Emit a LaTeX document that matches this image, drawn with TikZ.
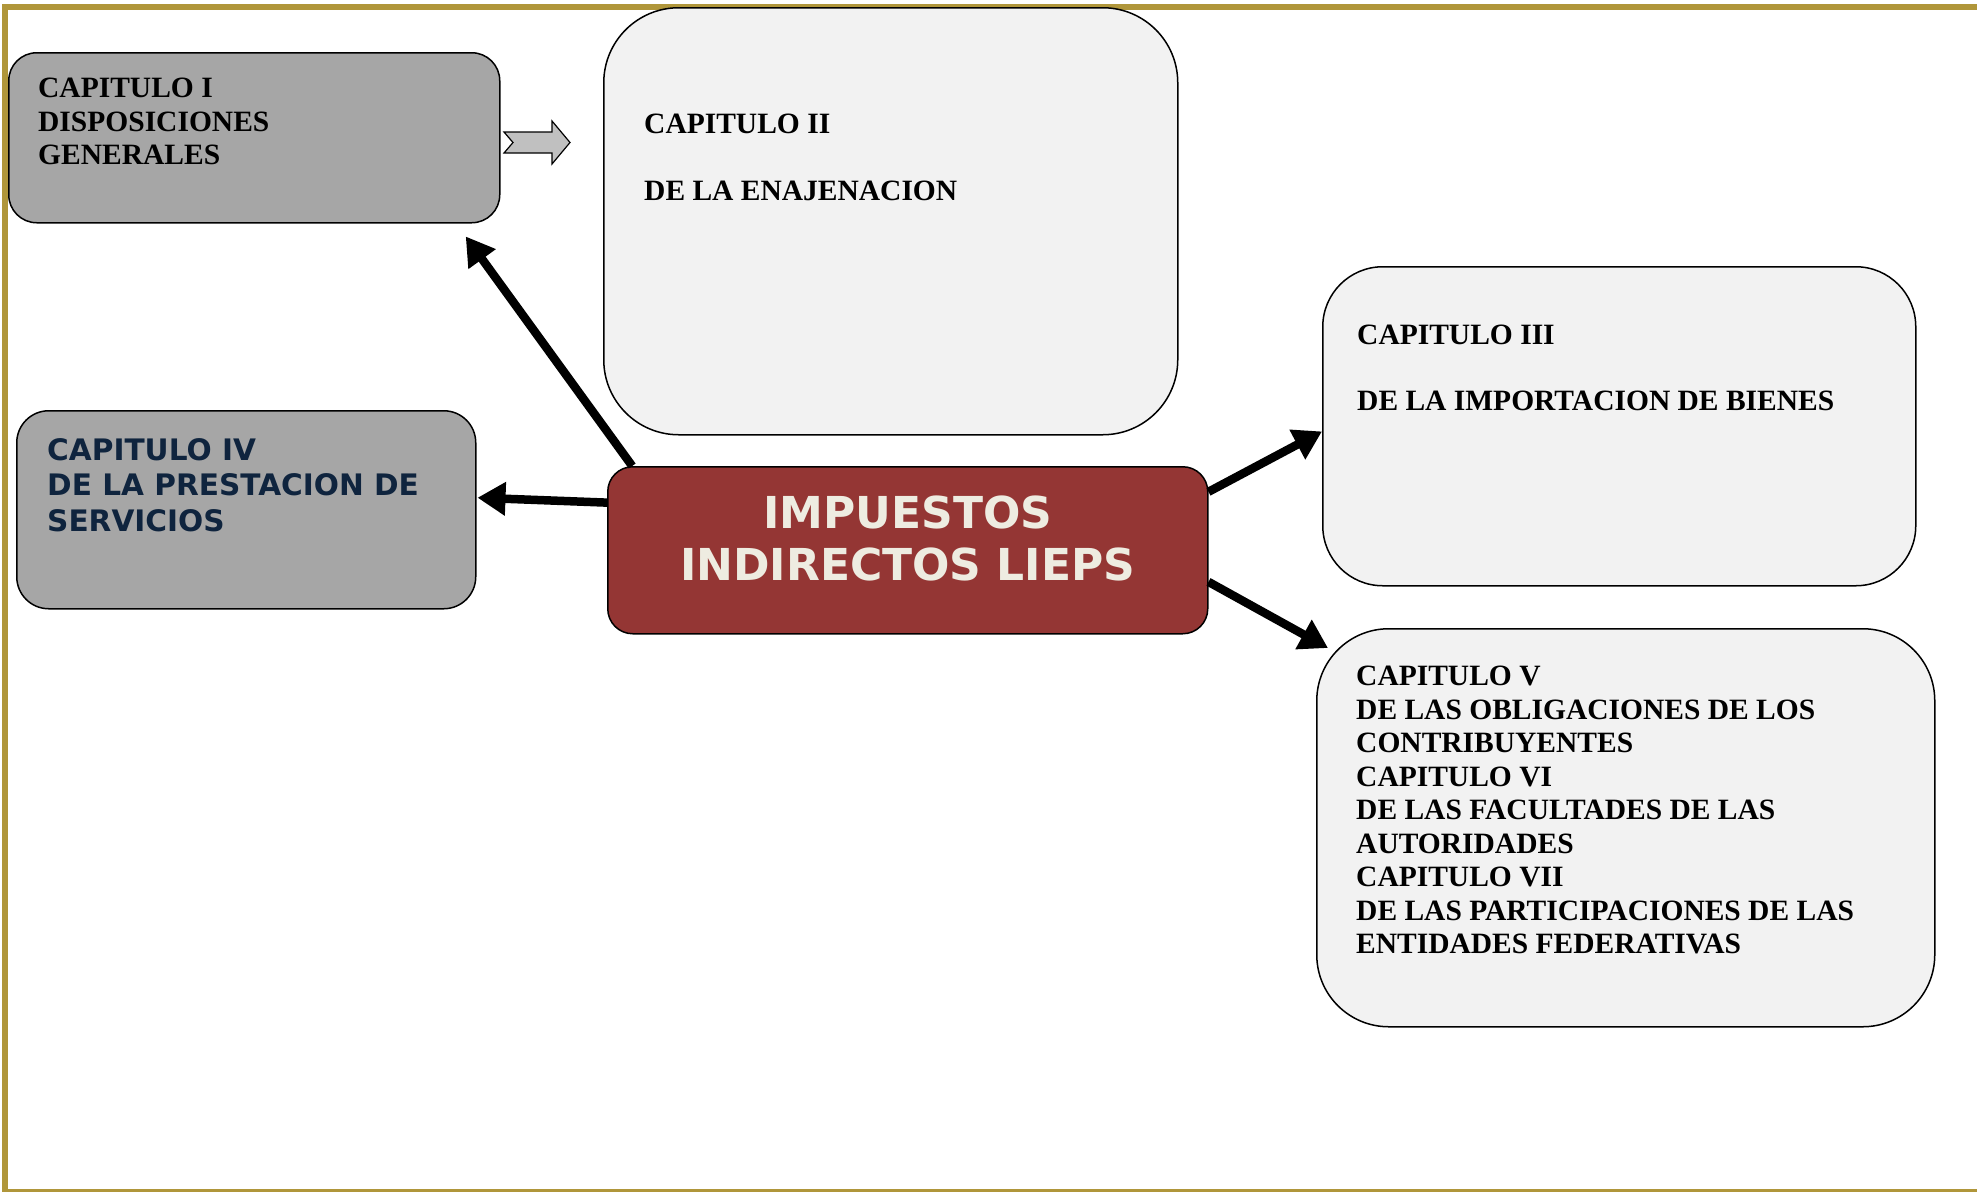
\documentclass[tikz,border=0pt]{standalone}
\usepackage{fontspec}
\setmainfont{Liberation Serif}
\newfontfamily\verdfont{DejaVu Sans}
\usetikzlibrary{positioning}
\usetikzlibrary{arrows.meta}
\definecolor{marco}{HTML}{B0963A}
\definecolor{grisbox}{HTML}{A6A6A6}
\definecolor{clarobox}{HTML}{F2F2F2}
\definecolor{rojobox}{HTML}{943634}
\definecolor{crema}{HTML}{EEECE1}
\definecolor{azulosc}{HTML}{0F243E}
\definecolor{grisflecha}{HTML}{C0C0C0}

\begin{document}
\begin{tikzpicture}[x=1pt,y=-1pt,
	caja/.style={draw=black, line width=1.5pt, anchor=north west, inner sep=0pt},
	txtserif/.style={inner sep=0pt, align=left, font=\fontsize{29.5}{33.5}\selectfont\bfseries},
	txtverd/.style={inner sep=0pt, align=left, text=azulosc, font=\verdfont\bfseries\fontsize{29.6}{35.7}\selectfont},
	flecha/.style={line width=8.5pt, -{Triangle[length=28pt,width=32pt]}}]
	\useasboundingbox (0,0) rectangle (1977,1192);
	% marco
	\fill[marco] (2,4) rectangle (1977,9.5);
	\fill[marco] (2,4) rectangle (7.5,1192);
	\fill[marco] (2,1189) rectangle (1977,1192);
	% cajas
	\node[caja, fill=grisbox, rounded corners=28pt, minimum width=491pt, minimum height=170pt] (cap1) at (8,52) {};%I
	\node[caja, fill=clarobox, rounded corners=75pt, minimum width=574pt, minimum height=427pt] (cap2) at (603,7) {};%II
	\node[caja, fill=clarobox, rounded corners=60pt, minimum width=593pt, minimum height=319pt] (cap3) at (1322,266) {};%III
	\node[caja, fill=grisbox, rounded corners=32pt, minimum width=459pt, minimum height=198pt] (cap4) at (16,410) {};%IV
	\node[caja, fill=rojobox, rounded corners=25pt, minimum width=600pt, minimum height=167pt] (lieps) at (607,466) {};%centro
	\node[caja, fill=clarobox, rounded corners=72pt, minimum width=618pt, minimum height=398pt] (cap5) at (1316,628) {};%V-VII
	% textos
	\node[txtserif, below right=26pt and 30pt of cap1.north west] (txt1) {CAPITULO I\\DISPOSICIONES\\GENERALES};
	\node[txtserif, below right=107pt and 41pt of cap2.north west] (txt2) {CAPITULO II\\[33.5pt]DE LA ENAJENACION};
	\node[txtserif, below right=59pt and 35pt of cap3.north west] (txt3) {CAPITULO III\\[32pt]DE LA IMPORTACION DE BIENES};
	\node[txtverd, below right=28pt and 31pt of cap4.north west] (txt4) {CAPITULO IV\\DE LA PRESTACION DE\\SERVICIOS};
	\node[txtserif, below right=38pt and 40pt of cap5.north west] (txt5) {CAPITULO V\\DE LAS OBLIGACIONES DE LOS\\CONTRIBUYENTES\\CAPITULO VI\\DE LAS FACULTADES DE LAS\\AUTORIDADES\\CAPITULO VII\\DE LAS PARTICIPACIONES DE LAS\\ENTIDADES FEDERATIVAS};
	\node[below=30pt of lieps.north, inner sep=0pt, align=center, text=crema, font=\verdfont\bfseries\fontsize{44}{51.5}\selectfont] (txt0) {IMPUESTOS\\INDIRECTOS LIEPS};
	% flecha gris
	\draw[fill=grisflecha, line width=1.2pt] (504,132) -- (552,132) -- (552,121) -- (570,142.5) -- (552,164) -- (552,153) -- (504,153) -- (513,142.5) -- cycle;
	% flechas
	\coordinate (punta5) at ([shift={(12,20)}]cap5.north west);
	\draw[flecha, shorten >=16pt] (lieps.163) -- (cap1.-23.4);
	\draw[flecha, shorten >=1pt] (lieps.171.8) -- (cap4.3);
	\draw[flecha] (lieps.11.8) -- (cap3.181);
	\draw[flecha] (lieps.-6.4) -- (punta5);
\end{tikzpicture}
\end{document}
